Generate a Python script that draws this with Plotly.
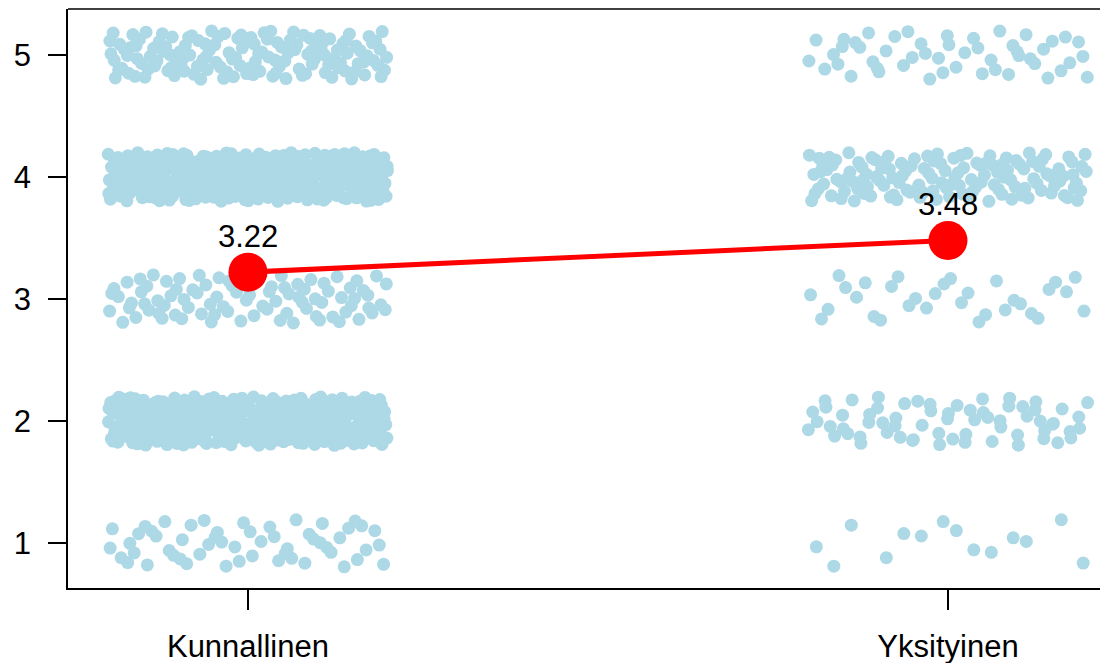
import plotly.graph_objects as go

# ---- data ----
groups = ["Kunnallinen", "Yksityinen"]
levels = [1, 2, 3, 4, 5]
counts_kunnallinen = [55, 299, 90, 330, 140]   # respondents per answer level
counts_yksityinen = [14, 65, 32, 135, 50]
means = [3.22, 3.48]
mean_labels = ["3.22", "3.48"]
y_ticks = [1, 2, 3, 4, 5]

JITTER = 0.2  # strip-chart jitter amount (display only)


def halton(i, b):
    f, r = 1.0, 0.0
    while i > 0:
        f /= b
        r += f * (i % b)
        i //= b
    return r


def jittered(group_pos, counts, start):
    xs, ys = [], []
    k = start
    for lev, n in zip(levels, counts):
        for _ in range(n):
            k += 1
            xs.append(group_pos + (2 * halton(k, 2) - 1) * JITTER)
            ys.append(lev + (2 * halton(k, 3) - 1) * JITTER)
    return xs, ys


fig = go.Figure()
for gi, (counts, start) in enumerate([(counts_kunnallinen, 17), (counts_yksityinen, 1500)]):
    xs, ys = jittered(gi + 1, counts, start)
    fig.add_trace(go.Scatter(
        x=xs, y=ys, mode="markers",
        marker=dict(size=13, color="#ADD8E6", line=dict(width=0)),
        hoverinfo="skip", showlegend=False))

fig.add_trace(go.Scatter(
    x=[1, 2], y=means, mode="lines+markers",
    line=dict(color="#FF0000", width=5),
    marker=dict(size=39, color="#FF0000"),
    showlegend=False))

for i, (m, lab) in enumerate(zip(means, mean_labels)):
    fig.add_annotation(x=i + 1, y=m, text=lab, showarrow=False,
                       yshift=36, font=dict(size=31, color="black",
                                            family="Liberation Sans, Arial"))

fig.add_shape(type="line", xref="paper", yref="paper", x0=0, x1=1, y0=1, y1=1,
              line=dict(color="black", width=1.6))

# page body has an 8px margin: figure sized so the plot frame lands where it should
fig.update_layout(
    width=1100, height=655,
    margin=dict(l=60, r=0, t=1, b=75, autoexpand=False),
    paper_bgcolor="white", plot_bgcolor="white",
    font=dict(family="Liberation Sans, Arial", color="black"),
    showlegend=False,
    xaxis=dict(range=[0.7429, 2.2286], tickvals=[1, 2], ticktext=groups,
               showgrid=False, zeroline=False, showline=True, linecolor="black",
               linewidth=1.6, ticks="outside", ticklen=20, tickwidth=1.6,
               tickcolor="black", tickfont=dict(size=31), ticklabelstandoff=10,
               automargin=False),
    yaxis=dict(range=[0.631, 5.377], tickvals=y_ticks,
               showgrid=False, zeroline=False, showline=True, linecolor="black",
               linewidth=1.6, ticks="outside", ticklen=18, tickwidth=1.6,
               tickcolor="black", tickfont=dict(size=31), ticklabelstandoff=11,
               automargin=False),
)

fig.write_html("out.html")
